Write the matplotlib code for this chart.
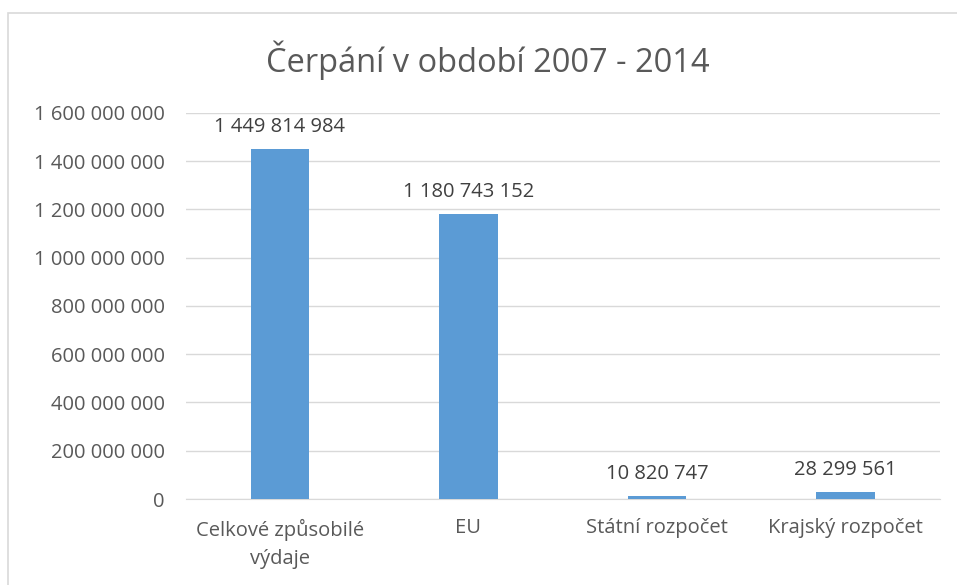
import matplotlib.pyplot as plt
from matplotlib.patches import Rectangle
from matplotlib.ticker import FuncFormatter

categories = ['Celkové způsobilé\nvýdaje', 'EU', 'Státní rozpočet', 'Krajský rozpočet']
values = [1449814984, 1180743152, 10820747, 28299561]
yticks = [0, 200000000, 400000000, 600000000, 800000000,
          1000000000, 1200000000, 1400000000, 1600000000]

BAR_COLOR = '#5b9bd5'
TEXT_COLOR = '#595959'
GRID_COLOR = '#d9d9d9'

plt.rcParams['font.family'] = ['Open Sans', 'DejaVu Sans']


def fmt(v, pos=None):
    return f'{int(v):,}'.replace(',', ' ')


fig = plt.figure(figsize=(9.57, 5.85), dpi=100)
ax = fig.add_axes([0.194, 0.147, 0.788, 0.66])

# ramecek grafu
fig.patches.append(Rectangle((8 / 957, -0.05), 1.0, 1 - 13 / 585 + 0.05,
                             transform=fig.transFigure, fill=False,
                             edgecolor=GRID_COLOR, linewidth=1.2))

x = range(len(categories))
bars = ax.bar(x, values, width=0.31, color=BAR_COLOR, zorder=3)

for b, v in zip(bars, values):
    ax.annotate(fmt(v), (b.get_x() + b.get_width() / 2, v),
                xytext=(0, 9), textcoords='offset points',
                ha='center', va='bottom', fontsize=14.5, color='#404040')

ax.set_xlim(-0.5, len(categories) - 0.5)
ax.set_ylim(0, 1600000000)
ax.set_yticks(yticks)
ax.yaxis.set_major_formatter(FuncFormatter(fmt))
ax.set_xticks(list(x))
ax.set_xticklabels(categories, linespacing=1.55)
ax.grid(axis='y', color=GRID_COLOR, linewidth=1, zorder=0)
ax.tick_params(axis='both', length=0, labelsize=14.5, labelcolor=TEXT_COLOR)
ax.tick_params(axis='y', pad=15)
ax.tick_params(axis='x', pad=14)
for s in ax.spines.values():
    s.set_visible(False)
ax.spines['bottom'].set_visible(True)
ax.spines['bottom'].set_color(GRID_COLOR)

fig.suptitle('Čerpání v období 2007 - 2014', x=0.51, y=0.93,
             fontsize=23.5, color=TEXT_COLOR)

fig.savefig('out.png', dpi=100)
